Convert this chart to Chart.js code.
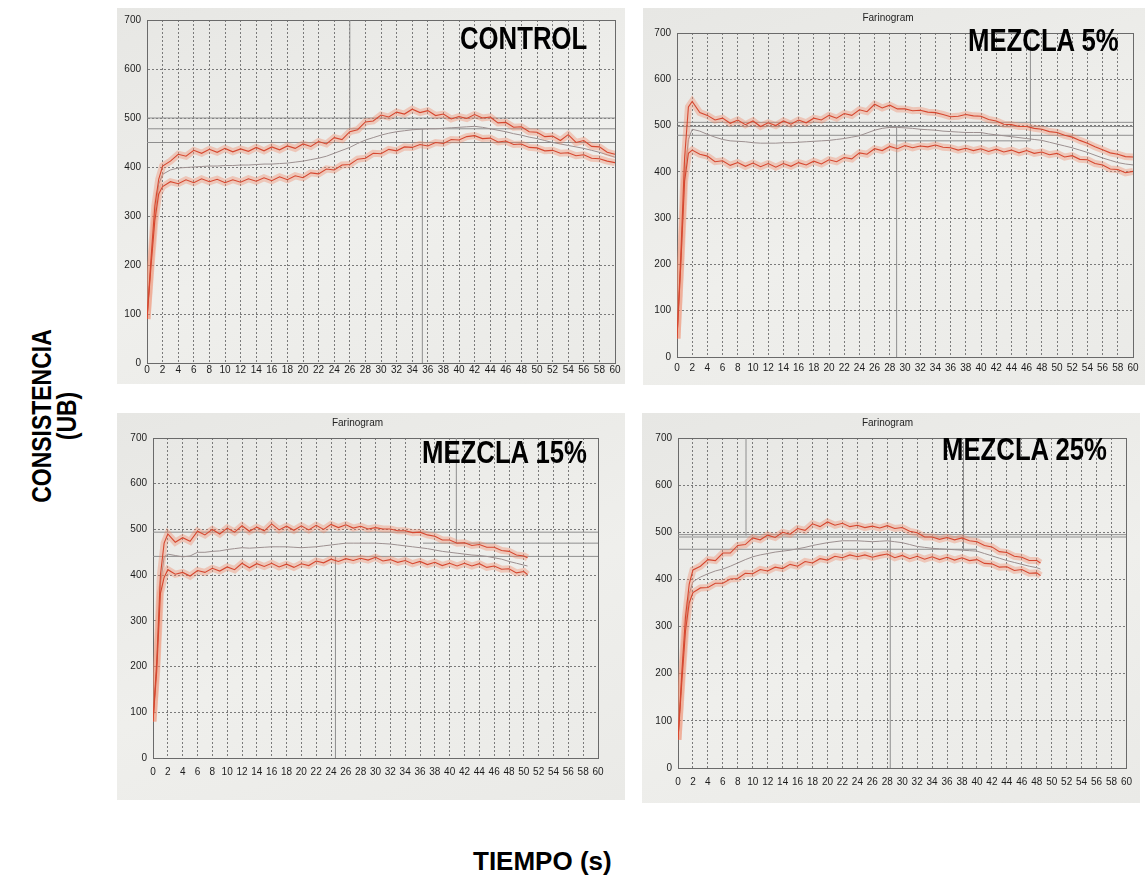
<!DOCTYPE html>
<html lang="es">
<head>
<meta charset="utf-8">
<title>Farinogramas</title>
<script src="https://cdn.jsdelivr.net/npm/chart.js@4.4.1/dist/chart.umd.min.js"></script>
<style>
  body { margin: 0; width: 1146px; height: 877px; background: #fff; position: relative; overflow: hidden;
         font-family: 'Liberation Sans', Arial, sans-serif; }
  .foto { position: absolute; background: linear-gradient(160deg, #e7e7e4 0%, #efefec 55%, #eaeae7 100%); }
  .foto canvas { position: absolute; left: 0; top: 0; }
  .rotulo { position: absolute; font-weight: bold; font-size: 31px; line-height: 1; color: #000;
            white-space: nowrap; transform: scaleX(0.83); transform-origin: left top; }
  #ejeY { position: absolute; left: -76px; top: 391px; width: 260px; height: 50px; text-align: center;
          font-weight: bold; font-size: 28px; line-height: 25px; transform: rotate(-90deg) scaleX(0.82); }
  #ejeX { position: absolute; left: 473px; top: 848px; font-weight: bold; font-size: 26px; line-height: 1; }
</style>
</head>
<body>

<div class="foto" style="left:117px; top:8px; width:508px; height:376px;"><canvas id="gControl" width="508" height="376"></canvas></div>
<div class="foto" style="left:643px; top:8px; width:502px; height:377px;"><canvas id="g5" width="502" height="377"></canvas></div>
<div class="foto" style="left:117px; top:413px; width:508px; height:387px;"><canvas id="g15" width="508" height="387"></canvas></div>
<div class="foto" style="left:642px; top:413px; width:498px; height:390px;"><canvas id="g25" width="498" height="390"></canvas></div>

<div class="rotulo" style="left:460px; top:23px;">CONTROL</div>
<div class="rotulo" style="left:968px; top:25px;">MEZCLA 5%</div>
<div class="rotulo" style="left:422px; top:437px;">MEZCLA 15%</div>
<div class="rotulo" style="left:942px; top:434px;">MEZCLA 25%</div>

<div id="ejeY">CONSISTENCIA<br>(UB)</div>
<div id="ejeX">TIEMPO (s)</div>

<script>
// tiempos de lectura (min)
const tiempo60 = [0, 0.5, 1, 1.5, 2, 3, 4, 5, 6, 7, 8, 9, 10, 11, 12, 13, 14, 15, 16, 17, 18, 19, 20, 21, 22,
  23, 24, 25, 26, 27, 28, 29, 30, 31, 32, 33, 34, 35, 36, 37, 38, 39, 40, 41, 42, 43, 44, 45, 46, 47, 48,
  49, 50, 51, 52, 53, 54, 55, 56, 57, 58, 59, 60];
const tiempo15 = [0, 0.5, 1, 1.5, 2, 3, 4, 5, 6, 7, 8, 9, 10, 11, 12, 13, 14, 15, 16, 17, 18, 19, 20, 21, 22,
  23, 24, 25, 26, 27, 28, 29, 30, 31, 32, 33, 34, 35, 36, 37, 38, 39, 40, 41, 42, 43, 44, 45, 46, 47, 48,
  49, 50, 50.5];
const tiempo25 = [0, 0.5, 1, 1.5, 2, 3, 4, 5, 6, 7, 8, 9, 10, 11, 12, 13, 14, 15, 16, 17, 18, 19, 20, 21, 22,
  23, 24, 25, 26, 27, 28, 29, 30, 31, 32, 33, 34, 35, 36, 37, 38, 39, 40, 41, 42, 43, 44, 45, 46, 47, 48,
  48.5];

const ticksX = [0, 2, 4, 6, 8, 10, 12, 14, 16, 18, 20, 22, 24, 26, 28, 30, 32, 34, 36, 38, 40, 42, 44, 46, 48, 50, 52, 54, 56, 58, 60];
const ticksY = [0, 100, 200, 300, 400, 500, 600, 700];

// CONTROL (UB)
const controlSuperior = [90, 210, 320, 375, 402,
  412, 426, 422, 434, 428, 436, 430, 438, 431, 437,
  432, 440, 433, 441, 435, 443, 438, 447, 442, 452,
  447, 460, 456, 472, 476, 492, 494, 506, 502, 512,
  508, 518, 511, 515, 505, 508, 498, 503, 499, 507,
  500, 502, 490, 491, 481, 482, 472, 471, 462, 463,
  454, 466, 450, 454, 442, 441, 430, 426];
const controlMedio = [90, 200, 300, 365, 385,
  394, 398, 399, 400, 401, 402, 402, 403, 403, 404,
  404, 405, 406, 406, 407, 408, 410, 412, 415, 418,
  422, 428, 434, 440, 448, 455, 460, 465, 469, 472,
  474, 476, 477, 478, 478, 479, 480, 481, 482, 483,
  481, 478, 475, 472, 468, 465, 461, 458, 454, 450,
  447, 444, 441, 438, 434, 430, 425, 420];
const controlInferior = [90, 195, 290, 345, 360,
  370, 366, 374, 368, 376, 370, 375, 368, 374, 369,
  376, 371, 378, 372, 380, 374, 382, 378, 388, 386,
  396, 394, 404, 405, 416, 418, 428, 427, 436, 433,
  441, 440, 446, 443, 450, 448, 456, 455, 462, 464,
  458, 459, 451, 453, 446, 447, 440, 439, 433, 434,
  428, 429, 423, 425, 418, 417, 412, 409];
const controlMarcas = [[0, 500, 60, 500], [0, 478, 60, 478], [0, 450, 60, 450], [26, 478, 26, 700], [35.3, 0, 35.3, 478]];

// MEZCLA 5%
const mezcla5Superior = [40, 220, 430, 540, 552,
  528, 522, 512, 516, 505, 512, 502, 510, 498, 506,
  500, 510, 503, 512, 506, 516, 512, 522, 516, 526,
  522, 534, 530, 546, 538, 544, 536, 536, 532, 533,
  529, 528, 524, 519, 520, 524, 521, 520, 513, 510,
  503, 502, 498, 498, 494, 492, 487, 485, 479, 475,
  468, 462, 454, 448, 441, 438, 433, 432];
const mezcla5Medio = [40, 200, 390, 470, 492,
  488, 481, 475, 470, 467, 466, 465, 463, 462, 462,
  462, 463, 463, 464, 465, 466, 467, 468, 470, 472,
  475, 478, 484, 490, 494, 496, 496, 495, 494, 492,
  491, 490, 488, 487, 486, 485, 485, 485, 482, 480,
  478, 476, 474, 472, 470, 468, 464, 460, 456, 452,
  447, 442, 436, 430, 425, 420, 417, 415];
const mezcla5Inferior = [40, 200, 380, 440, 447,
  438, 434, 422, 424, 414, 420, 412, 419, 411, 418,
  410, 418, 412, 420, 415, 423, 417, 426, 422, 431,
  428, 441, 438, 450, 446, 455, 450, 457, 452, 456,
  454, 458, 453, 452, 447, 451, 446, 450, 444, 449,
  443, 447, 441, 446, 440, 443, 437, 440, 432, 435,
  427, 426, 418, 415, 406, 405, 398, 401];
const mezcla5Marcas = [[0, 507, 60, 507], [0, 498, 60, 498], [0, 479, 60, 479], [28.9, 467, 46.5, 467],
  [28.9, 0, 28.9, 498], [46.5, 467, 46.5, 690]];

// MEZCLA 15%
const mezcla15Superior = [80, 210, 400, 470, 490,
  472, 482, 474, 496, 488, 500, 490, 503, 494, 508,
  496, 505, 497, 512, 499, 507, 498, 508, 499, 509,
  500, 511, 504, 510, 503, 507, 501, 504, 501, 501,
  497, 497, 493, 494, 488, 485, 477, 477, 470, 471,
  465, 467, 461, 461, 454, 452, 444, 442,
  438];
const mezcla15Medio = [80, 200, 380, 440, 446,
  443, 440, 442, 450, 450, 452, 453, 456, 458, 460,
  459, 460, 461, 462, 462, 462, 461, 460, 461, 462,
  464, 466, 468, 470, 470, 470, 470, 470, 469, 468,
  466, 464, 462, 460, 458, 455, 452, 450, 448, 446,
  444, 443, 441, 438, 435, 430, 426, 422,
  420];
const mezcla15Inferior = [80, 190, 360, 395, 412,
  402, 406, 398, 410, 406, 415, 409, 418, 412, 426,
  416, 425, 419, 426, 418, 424, 417, 425, 421, 431,
  427, 435, 430, 436, 432, 437, 433, 439, 431, 434,
  428, 432, 425, 430, 423, 428, 421, 426, 420, 426,
  420, 425, 417, 420, 413, 414, 405, 408,
  401];
const mezcla15Marcas = [[0, 494, 60, 494], [0, 441, 60, 441], [36.4, 470, 60, 470],
  [24.6, 0, 24.6, 441], [40.9, 470, 40.9, 700]];

// MEZCLA 25%
const mezcla25Superior = [60, 200, 320, 390, 420,
  428, 442, 440, 456, 456, 472, 474, 488, 484, 494,
  489, 500, 496, 508, 504, 518, 512, 522, 515, 519,
  512, 515, 510, 513, 509, 514, 508, 510, 502, 499,
  490, 490, 485, 489, 484, 488, 482, 480, 472, 469,
  459, 457, 449, 447, 440, 440,
  435];
const mezcla25Medio = [60, 190, 300, 370, 395,
  405, 412, 418, 422, 428, 435, 442, 448, 452, 455,
  458, 460, 462, 465, 468, 472, 475, 478, 480, 482,
  482, 482, 481, 480, 481, 482, 480, 478, 474, 470,
  468, 466, 465, 464, 463, 462, 461, 460, 455, 450,
  445, 440, 436, 432, 428, 425,
  422];
const mezcla25Inferior = [60, 180, 290, 350, 372,
  382, 383, 392, 392, 401, 402, 413, 412, 421, 418,
  426, 423, 432, 428, 438, 435, 444, 441, 449, 446,
  452, 448, 452, 447, 451, 454, 446, 451, 444, 449,
  443, 448, 442, 447, 441, 446, 440, 442, 434, 433,
  426, 427, 419, 421, 413, 414,
  408];
const mezcla25Marcas = [[0, 495, 60, 495], [0, 490, 60, 490], [0, 464, 40, 464],
  [9.1, 493, 9.1, 700], [28.4, 0, 28.4, 490], [38.2, 464, 38.2, 692]];

const FUENTE = "'Liberation Sans', Arial, sans-serif";

// marco completo del área de trazado
const marco = {
  id: 'marco',
  beforeDatasetsDraw(chart) {
    const { ctx, chartArea: a } = chart;
    ctx.save();
    ctx.strokeStyle = '#6a6a6a';
    ctx.lineWidth = 1;
    ctx.strokeRect(Math.round(a.left) + 0.5, Math.round(a.top) + 0.5, Math.round(a.width), Math.round(a.height));
    ctx.restore();
  }
};

function crearFarinograma(id, tiempo, superior, medio, inferior, marcas, aj) {
  const puntos = serie => tiempo.map((t, i) => ({ x: t, y: serie[i] }));
  const nucleo = { borderColor: 'rgb(214,72,48)', borderWidth: 1.1 };
  const halo = { borderColor: 'rgba(238,136,106,0.38)', borderWidth: 7 };

  const datasets = [
    { data: puntos(superior), ...nucleo },
    { data: puntos(inferior), ...nucleo },
    { data: puntos(superior), ...halo },
    { data: puntos(inferior), ...halo },
    { data: puntos(medio), borderColor: '#9c9090', borderWidth: 1 },
    ...marcas.map(([t1, v1, t2, v2]) => ({
      data: [{ x: t1, y: v1 }, { x: t2, y: v2 }], borderColor: '#8e8e8e', borderWidth: 1
    })),
  ];

  const rejilla = { color: '#7a7a7a', lineWidth: 1, drawTicks: false };
  const borde = { color: '#666', dash: [2, 2] };
  const fuenteTicks = { size: 10, family: FUENTE };

  new Chart(document.getElementById(id), {
    type: 'line',
    data: { datasets },
    options: {
      responsive: false,
      animation: false,
      events: [],
      elements: { point: { radius: 0 }, line: { tension: 0 } },
      layout: { padding: { left: 0, right: aj.der, top: aj.sup, bottom: aj.inf } },
      plugins: {
        legend: { display: false },
        tooltip: { enabled: false },
        title: {
          display: aj.titulo,
          text: 'Farinogram',
          color: '#222',
          font: { size: 10, family: FUENTE, weight: 'normal' },
          padding: { top: 4, bottom: 9 },
        },
      },
      scales: {
        x: {
          type: 'linear', min: 0, max: 60,
          afterFit: s => { s.height = aj.altoX; },
          afterBuildTicks: s => { s.ticks = ticksX.map(v => ({ value: v })); },
          ticks: { autoSkip: false, maxRotation: 0, padding: aj.padX, color: '#1c1c1c', font: fuenteTicks },
          grid: rejilla,
          border: borde,
        },
        y: {
          min: 0, max: 700,
          afterFit: s => { s.width = aj.anchoY; },
          afterBuildTicks: s => { s.ticks = ticksY.map(v => ({ value: v })); },
          ticks: { padding: 6, color: '#1c1c1c', font: fuenteTicks },
          grid: rejilla,
          border: borde,
        },
      },
    },
    plugins: [marco],
  });
}

crearFarinograma('gControl', tiempo60, controlSuperior, controlMedio, controlInferior, controlMarcas,
  { anchoY: 30, der: 10, sup: 6, inf: 3, altoX: 18, padX: 1, titulo: false });
crearFarinograma('g5', tiempo60, mezcla5Superior, mezcla5Medio, mezcla5Inferior, mezcla5Marcas,
  { anchoY: 34, der: 12, sup: 0, inf: 8, altoX: 20, padX: 5, titulo: true });
crearFarinograma('g15', tiempo15, mezcla15Superior, mezcla15Medio, mezcla15Inferior, mezcla15Marcas,
  { anchoY: 36, der: 27, sup: 0, inf: 20, altoX: 22, padX: 8, titulo: true });
crearFarinograma('g25', tiempo25, mezcla25Superior, mezcla25Medio, mezcla25Inferior, mezcla25Marcas,
  { anchoY: 36, der: 7, sup: 0, inf: 13, altoX: 22, padX: 8, titulo: true });
</script>
</body>
</html>
